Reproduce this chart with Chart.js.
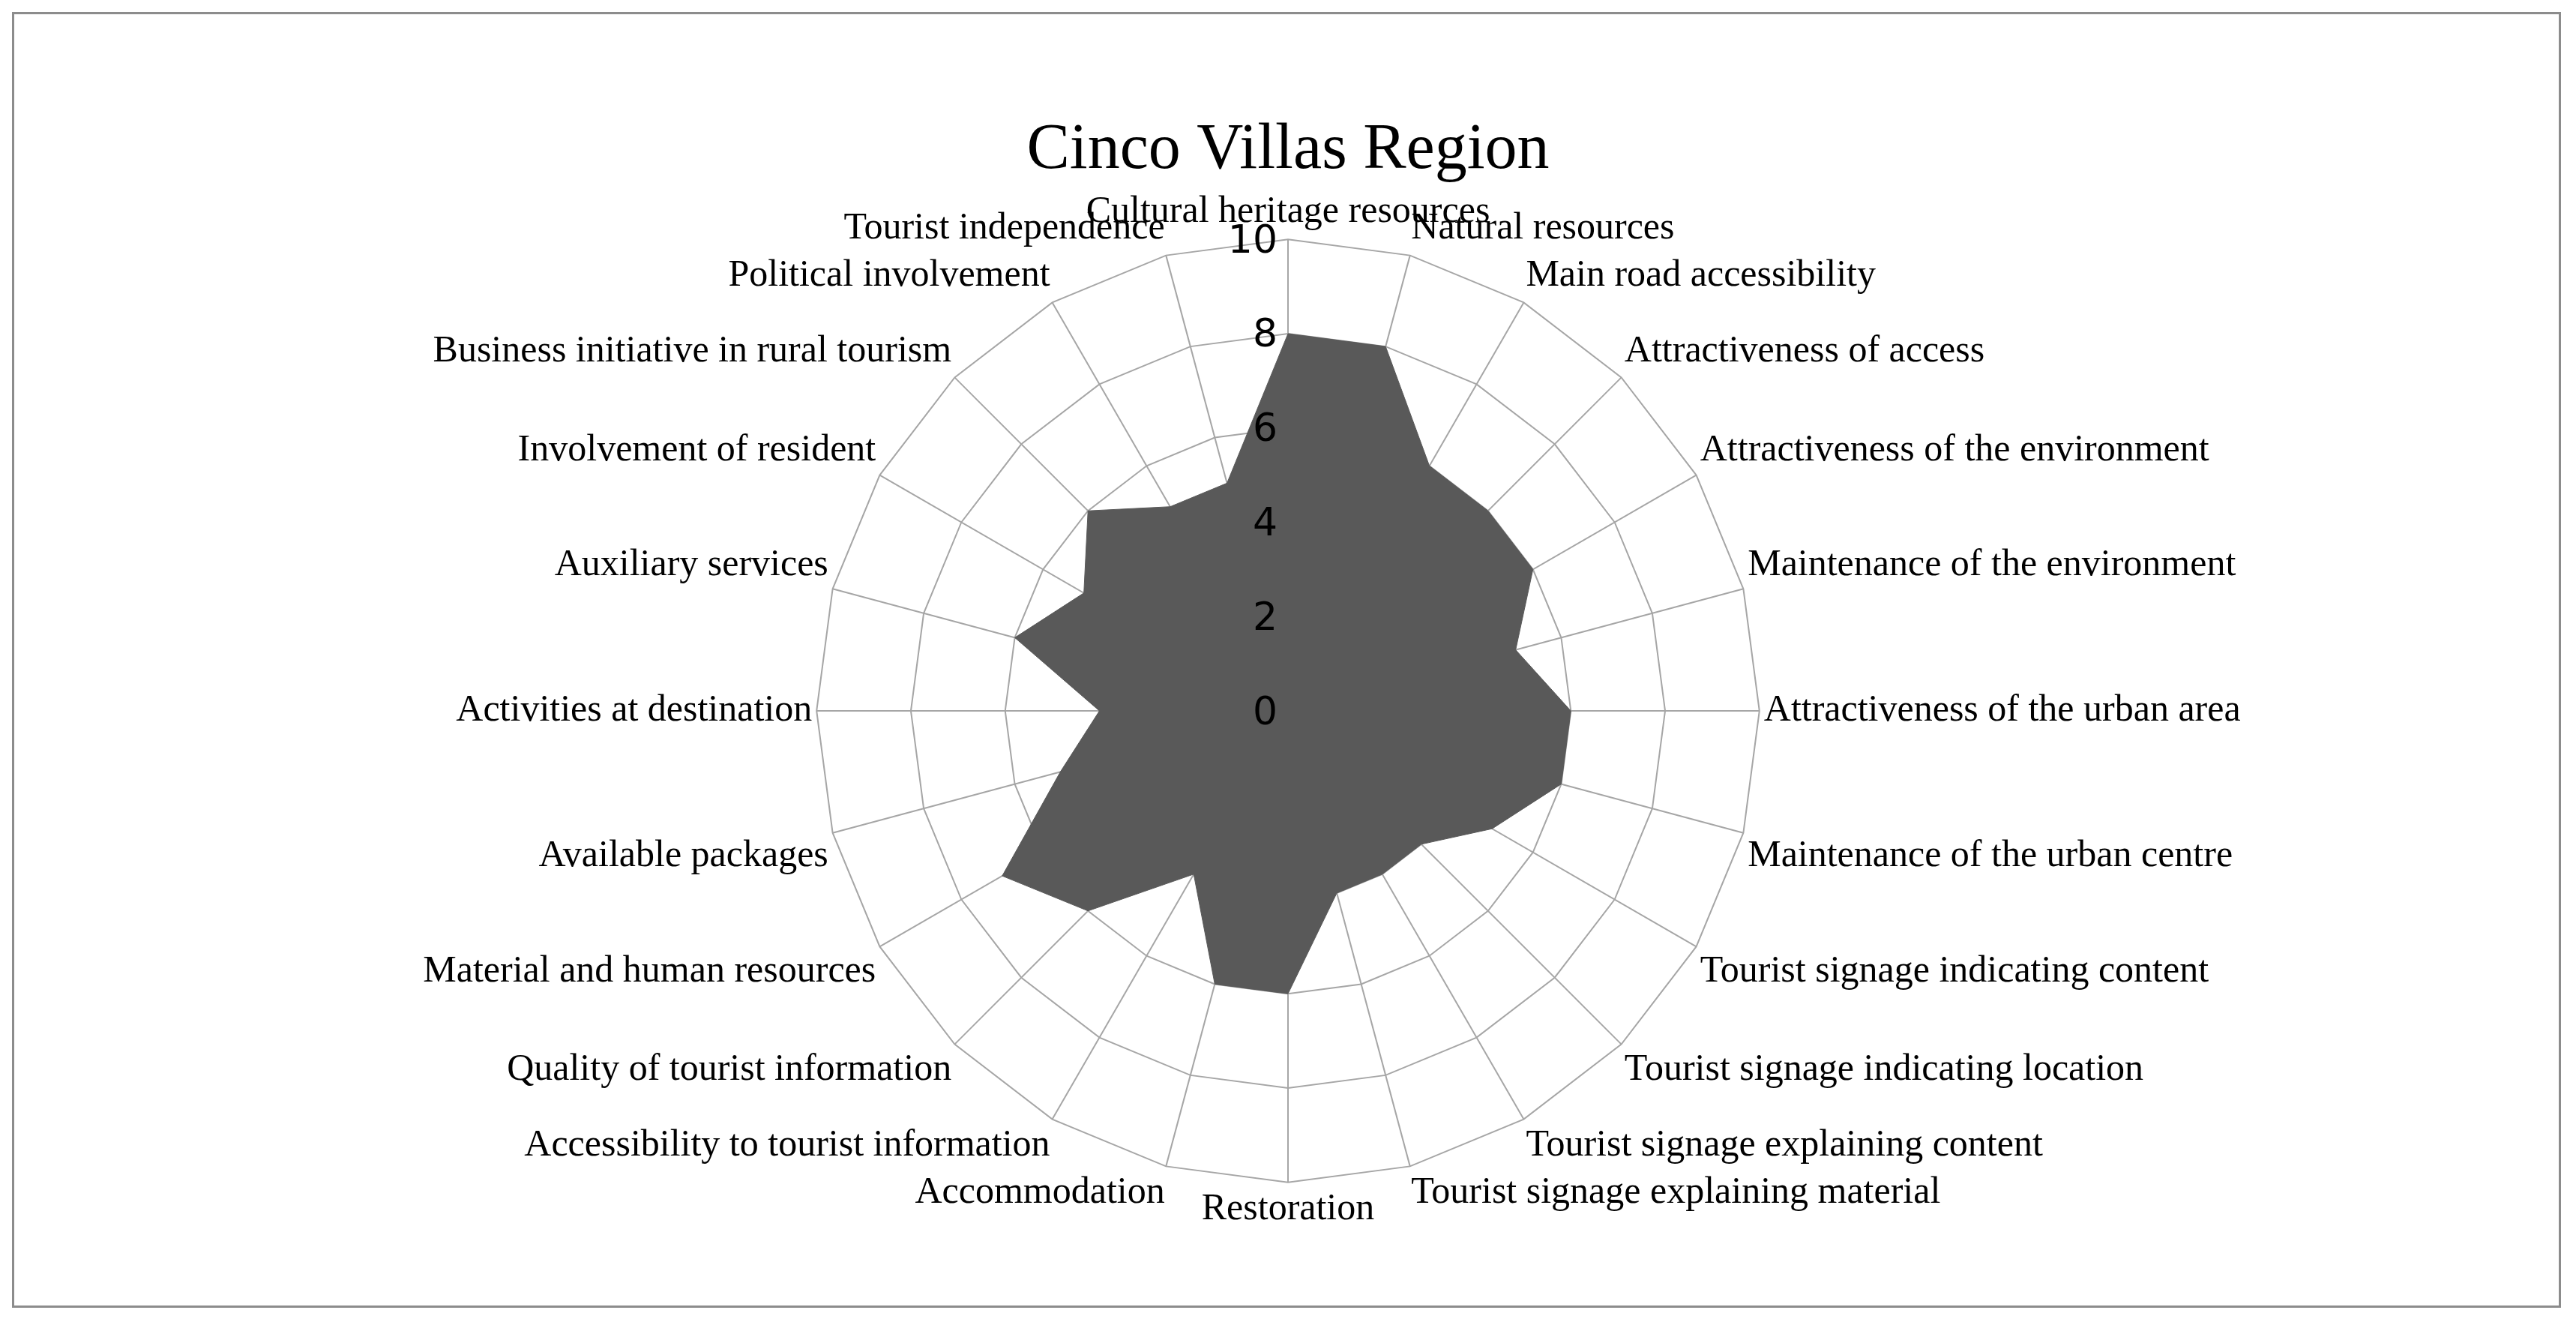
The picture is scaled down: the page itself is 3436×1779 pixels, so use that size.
<!DOCTYPE html>
<html lang="en">
<head>
<meta charset="UTF-8">
<title>Cinco Villas Region</title>
<script src="https://cdn.jsdelivr.net/npm/chart.js"></script>
<style>
  * { box-sizing: border-box; margin: 0; padding: 0; }
  body { background: #fff; width: 3436px; height: 1779px; }
  .frame { position: absolute; left: 16px; top: 16px; width: 3400px; height: 1728px; border: 3px solid #8c8c8c; }
  canvas { position: absolute; left: 0; top: 0; }
</style>
</head>
<body>
<div class="frame"></div>
<canvas id="radar" width="3436" height="1779"></canvas>
<script>
const categories = [
  'Cultural heritage resources', 'Natural resources', 'Main road accessibility',
  'Attractiveness of access', 'Attractiveness of the environment', 'Maintenance of the environment',
  'Attractiveness of the urban area', 'Maintenance of the urban centre', 'Tourist signage indicating content',
  'Tourist signage indicating location', 'Tourist signage explaining content', 'Tourist signage explaining material',
  'Restoration', 'Accommodation', 'Accessibility to tourist information',
  'Quality of tourist information', 'Material and human resources', 'Available packages',
  'Activities at destination', 'Auxiliary services', 'Involvement of resident',
  'Business initiative in rural tourism', 'Political involvement', 'Tourist independence'
];
const scores = [8, 8, 6, 6, 6, 5, 6, 6, 5, 4, 4, 4, 6, 6, 4, 6, 7, 5, 4, 6, 5, 6, 5, 5];
const tickValues = [0, 2, 4, 6, 8, 10];

// tick numbers sit left of the vertical axis, like the original
const tickPlugin = {
  id: 'leftTicks',
  afterDraw(chart) {
    const r = chart.scales.r;
    const ctx = chart.ctx;
    ctx.save();
    ctx.font = '52px "DejaVu Sans"';
    ctx.fillStyle = '#000';
    ctx.textAlign = 'right';
    ctx.textBaseline = 'middle';
    tickValues.forEach(v => {
      const d = r.getDistanceFromCenterForValue(v);
      ctx.fillText(String(v), r.xCenter - 14, r.yCenter - d + 4);
    });
    ctx.restore();
  }
};

new Chart(document.getElementById('radar'), {
  type: 'radar',
  data: {
    labels: categories,
    datasets: [{
      data: scores,
      backgroundColor: '#595959',
      borderColor: '#595959',
      borderWidth: 1,
      pointRadius: 0,
      fill: true
    }]
  },
  options: {
    responsive: false,
    animation: false,
    layout: { padding: { top: 120, bottom: 135, left: 0, right: 0 } },
    plugins: {
      legend: { display: false },
      tooltip: { enabled: false },
      title: {
        display: true,
        text: 'Cinco Villas Region',
        color: '#000',
        font: { family: '"Liberation Serif"', size: 86, weight: 'normal' },
        padding: { top: 30, bottom: 0 }
      }
    },
    scales: {
      r: {
        min: 0, max: 10,
        ticks: { stepSize: 2, display: false },
        grid: { color: '#a6a6a6', lineWidth: 2 },
        angleLines: { color: '#a6a6a6', lineWidth: 2 },
        pointLabels: {
          color: '#000',
          padding: 6,
          font: { family: '"Liberation Serif"', size: 50 }
        }
      }
    }
  },
  plugins: [tickPlugin]
});
</script>
</body>
</html>
